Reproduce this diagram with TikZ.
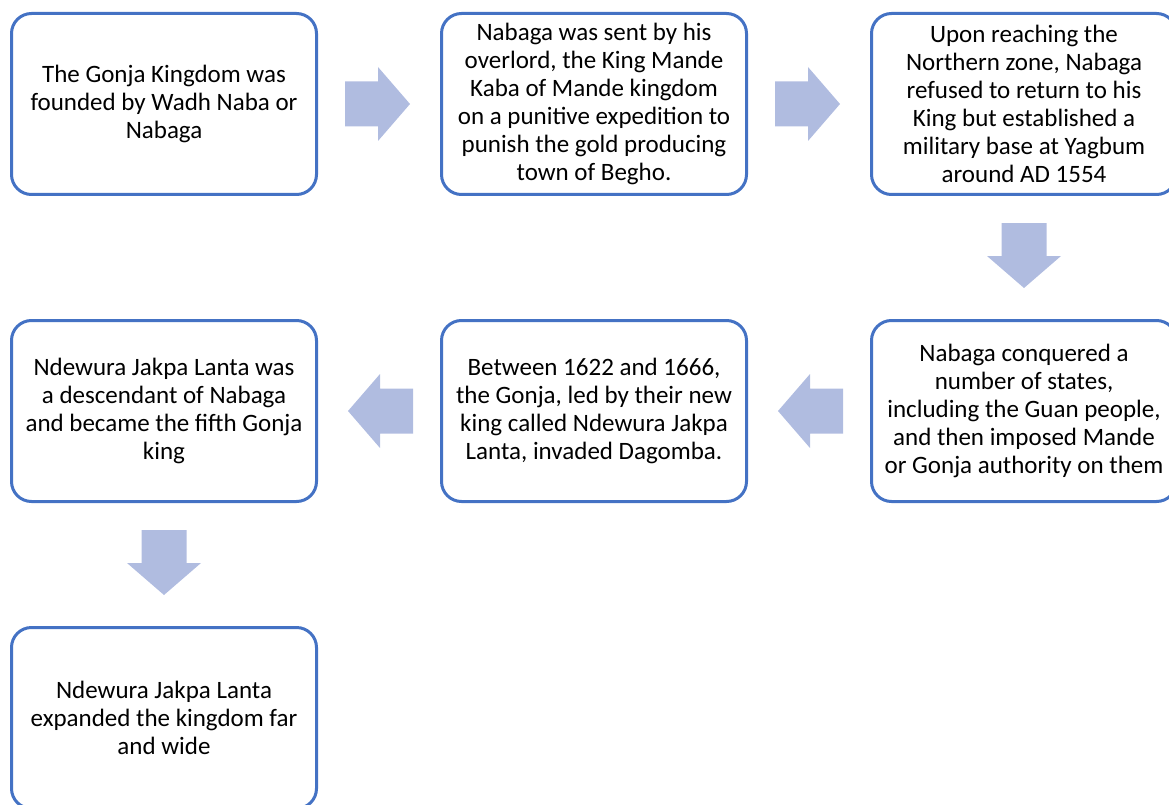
\documentclass[tikz,border=0pt]{standalone}
\usepackage{fontspec}
\setmainfont{Carlito}
\usetikzlibrary{calc}
\definecolor{boxline}{RGB}{68,114,196}
\definecolor{arrowfill}{RGB}{176,188,224}
\tikzset{
  stepbox/.style={draw=boxline, line width=3pt, rounded corners=20pt, fill=white,
    minimum width=305pt, minimum height=181pt, align=center, inner sep=0pt,
    font=\fontsize{25pt}{28pt}\selectfont, text=black},
  blockarr/.pic={\fill[arrowfill] (-32.5,-22.5) -- (0.5,-22.5) -- (0.5,-37) -- (32.5,0)
     -- (0.5,37) -- (0.5,22.5) -- (-32.5,22.5) -- cycle;}
}
\begin{document}
\begin{tikzpicture}[x=1pt,y=1pt]
\useasboundingbox (0,0) rectangle (1169,-805);
\node[stepbox] (b1) at (164,-104) {The Gonja Kingdom was\\founded by Wadh Naba or\\Nabaga};
\node[stepbox] (b2) at (594,-104) {Nabaga was sent by his\\overlord, the King Mande\\Kaba of Mande kingdom\\on a punitive expedition to\\punish the gold producing\\town of Begho.};
\node[stepbox] (b3) at (1024,-104) {Upon reaching the\\Northern zone, Nabaga\\refused to return to his\\King but established a\\military base at Yagbum\\around AD 1554};
\node[stepbox] (b4) at (1024,-411) {Nabaga conquered a\\number of states,\\including the Guan people,\\and then imposed Mande\\or Gonja authority on them};
\node[stepbox] (b5) at (594,-411) {Between 1622 and 1666,\\the Gonja, led by their new\\king called Ndewura Jakpa\\Lanta, invaded Dagomba.};
\node[stepbox] (b6) at (164,-411) {Ndewura Jakpa Lanta was\\a descendant of Nabaga\\and became the fifth Gonja\\king};
\node[stepbox] (b7) at (164,-718) {Ndewura Jakpa Lanta\\expanded the kingdom far\\and wide};
\coordinate (a1) at ($(b1.east)!0.5!(b2.west)+(-1.5,0)$);
\coordinate (a2) at ($(b2.east)!0.5!(b3.west)+(-1.5,0)$);
\coordinate (a3) at ($(b3.south)!0.5!(b4.north)+(0,2)$);
\coordinate (a4) at ($(b4.west)!0.5!(b5.east)+(1.5,0)$);
\coordinate (a5) at ($(b5.west)!0.5!(b6.east)+(1.5,0)$);
\coordinate (a6) at ($(b6.south)!0.5!(b7.north)+(0,2)$);
\pic at (a1) {blockarr};
\pic at (a2) {blockarr};
\pic[rotate=-90] at (a3) {blockarr};
\pic[rotate=180] at (a4) {blockarr};
\pic[rotate=180] at (a5) {blockarr};
\pic[rotate=-90] at (a6) {blockarr};
\end{tikzpicture}
\end{document}
